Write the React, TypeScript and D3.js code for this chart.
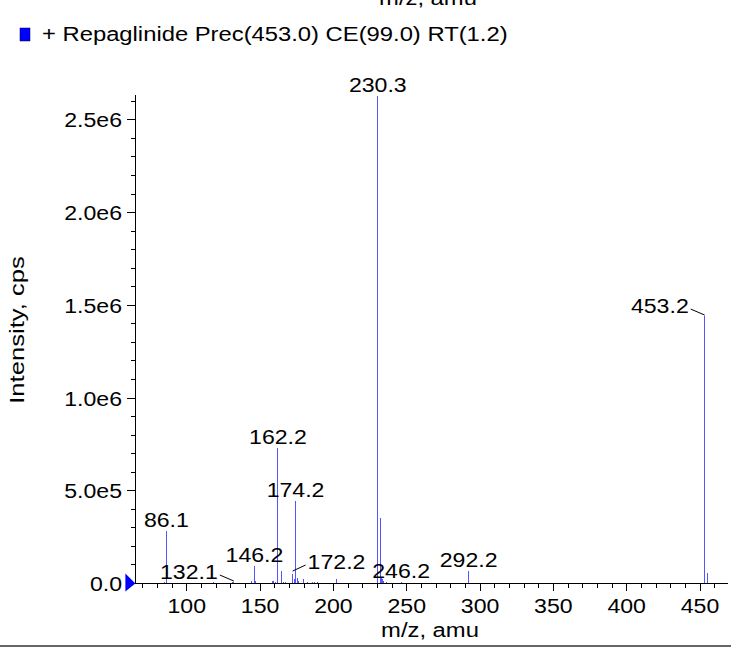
import React from "react";
import * as d3 from "d3";

// ---- data ----
const peakMz = [
  83.3, 84.6, 86.1, 105.9, 118.1, 119.8, 131.4, 132.1, 133.4, 143.9, 146.2, 147.2,
  158.6, 159.4, 160.2, 162.2, 164.8, 166.0, 167.2, 172.2, 173.2, 174.2, 175.2, 176.3,
  179.4, 182.3, 186.0, 187.2, 189.2, 202.3, 229.9, 230.3, 231.9, 232.6, 233.4, 234.2,
  236.0, 238.1, 246.2, 292.2, 453.2, 454.8,
];
const peakIntensity = [
  5e3, 6e3, 2.83e5, 4e3, 6e3, 4e3, 6e3, 8e3, 5e3, 1.6e4, 9.4e4, 1.2e4,
  1.2e4, 1.3e4, 1.0e4, 7.3e5, 6.9e4, 1.0e4, 6e3, 5.1e4, 2.4e4, 4.44e5, 3.0e4, 1.2e4,
  2.4e4, 8e3, 6e3, 8e3, 8e3, 2.2e4, 1.2e4, 2.63e6, 3.53e5, 3.0e4, 2.5e4, 1.5e4,
  6e3, 5e3, 8e3, 6.7e4, 1.442e6, 5.5e4,
];
const labelMz = [230.3, 162.2, 174.2, 86.1, 146.2, 292.2, 246.2, 132.1, 172.2, 453.2];
const labelText = ["230.3", "162.2", "174.2", "86.1", "146.2", "292.2", "246.2", "132.1", "172.2", "453.2"];
const labelSide = ["above", "above", "above", "above", "above", "above", "above", "left", "right", "left"];
const xMajorTicks = [100, 150, 200, 250, 300, 350, 400, 450];
const yMajorTicks = [0, 5e5, 1e6, 1.5e6, 2e6, 2.5e6];
const yTickLabels = ["0.0", "5.0e5", "1.0e6", "1.5e6", "2.0e6", "2.5e6"];
const xDomain = [65, 469];
const yMax = 2.634e6;
const legendText = "+ Repaglinide Prec(453.0) CE(99.0) RT(1.2)";
const xTitle = "m/z, amu";
const yTitle = "Intensity, cps";

const FONT = "'Liberation Sans', Arial, Helvetica, sans-serif";
const W = 731;
const H = 651;

type TProps = {
  x: number;
  y: number;
  size: number;
  sx: number;
  anchor?: "start" | "middle" | "end";
  rotate?: number;
  children: React.ReactNode;
};

function T({ x, y, size, sx, anchor = "start", rotate = 0, children }: TProps) {
  return (
    <text
      transform={`translate(${x},${y}) rotate(${rotate}) scale(${sx},1)`}
      fontSize={size}
      textAnchor={anchor}
      fill="#000"
    >
      {children}
    </text>
  );
}

export default function App() {
  const x = d3.scaleLinear().domain(xDomain).range([135.4, 727.9]);
  const y = d3.scaleLinear().domain([0, yMax]).range([583.5, 95]);
  const x0 = x.range()[0];
  const yBase = y(0);

  const xMinor = d3.range(70, 461, 10).filter((v) => v % 50 !== 0);
  const yMinor = d3.range(1e5, 2.61e6, 1e5).filter((v) => Math.round(v / 1e5) % 5 !== 0);

  const peakColor = "#5555ff";
  const NS = 21; // number font size
  const NSX = 1.1; // number horizontal stretch

  return (
    <svg
      width={W}
      height={H}
      style={{ position: "absolute", left: 0, top: 0, background: "#fff" }}
      fontFamily={FONT}
    >
      <rect x={0} y={0} width={W} height={H} fill="#fff" />
      {/* clipped title of previous panel */}
      <T x={428} y={5} size={20} sx={1.19} anchor="middle">
        {xTitle}
      </T>

      {/* legend */}
      <rect x={20} y={28} width={10} height={13} fill="#0000ff" stroke="#000033" strokeWidth={0.5} />
      <T x={42} y={41} size={20} sx={1.19}>
        {legendText}
      </T>

      {/* peaks */}
      {peakMz.map((m, i) => (
        <line
          key={"p" + i}
          x1={x(m)}
          x2={x(m)}
          y1={yBase}
          y2={y(peakIntensity[i])}
          stroke={peakColor}
          strokeWidth={1}
          shapeRendering="crispEdges"
        />
      ))}

      {/* y axis */}
      <line x1={x0} x2={x0} y1={95} y2={yBase} stroke="#000" strokeWidth={1} shapeRendering="crispEdges" />
      {yMajorTicks.map((v, i) => (
        <g key={"ym" + i}>
          {i > 0 && (
            <line x1={x0 - 8} x2={x0} y1={y(v)} y2={y(v)} stroke="#000" shapeRendering="crispEdges" />
          )}
          <T x={122} y={y(v) + 7.5} size={NS} sx={NSX} anchor="end">
            {yTickLabels[i]}
          </T>
        </g>
      ))}
      {yMinor.map((v, i) => (
        <line key={"yn" + i} x1={x0 - 4} x2={x0} y1={y(v)} y2={y(v)} stroke="#000" shapeRendering="crispEdges" />
      ))}

      {/* x axis */}
      <line x1={x0} x2={x.range()[1]} y1={yBase} y2={yBase} stroke="#000" strokeWidth={1} shapeRendering="crispEdges" />
      {xMajorTicks.map((v, i) => (
        <g key={"xm" + i}>
          <line x1={x(v)} x2={x(v)} y1={yBase} y2={yBase + 7} stroke="#000" shapeRendering="crispEdges" />
          <T x={x(v)} y={613} size={NS} sx={NSX} anchor="middle">
            {String(v)}
          </T>
        </g>
      ))}
      {xMinor.map((v, i) => (
        <line key={"xn" + i} x1={x(v)} x2={x(v)} y1={yBase} y2={yBase + 4} stroke="#000" shapeRendering="crispEdges" />
      ))}

      {/* origin marker */}
      <path d={`M${x0 - 10},${yBase - 10} L${x0},${yBase} L${x0 - 10},${yBase + 8} Z`} fill="#0000ff" />

      {/* peak labels */}
      {labelMz.map((m, i) => {
        const idx = peakMz.indexOf(m);
        const px = x(m);
        const top = y(peakIntensity[idx]);
        const side = labelSide[i];
        if (side === "above") {
          return (
            <T key={"l" + i} x={px} y={top - 4} size={NS} sx={NSX} anchor="middle">
              {labelText[i]}
            </T>
          );
        }
        if (side === "left") {
          const bx = px - 16;
          const by = top - 3;
          return (
            <g key={"l" + i}>
              <T x={bx} y={by} size={NS} sx={NSX} anchor="end">
                {labelText[i]}
              </T>
              <line x1={bx + 2} y1={by - 4} x2={px} y2={by + 2} stroke="#000" strokeWidth={1} />
            </g>
          );
        }
        const bx = px + 15;
        const by = top - 5;
        return (
          <g key={"l" + i}>
            <T x={bx} y={by} size={NS} sx={NSX} anchor="start">
              {labelText[i]}
            </T>
            <line x1={bx - 2} y1={by - 4} x2={px} y2={by + 2} stroke="#000" strokeWidth={1} />
          </g>
        );
      })}

      {/* axis titles */}
      <T x={430} y={637} size={20} sx={1.19} anchor="middle">
        {xTitle}
      </T>
      <T x={24} y={330} size={20} sx={1.28} anchor="middle" rotate={-90}>
        {yTitle}
      </T>

      {/* bottom separator */}
      <line x1={0} x2={W} y1={646} y2={646} stroke="#333" strokeWidth={1.5} />
    </svg>
  );
}
